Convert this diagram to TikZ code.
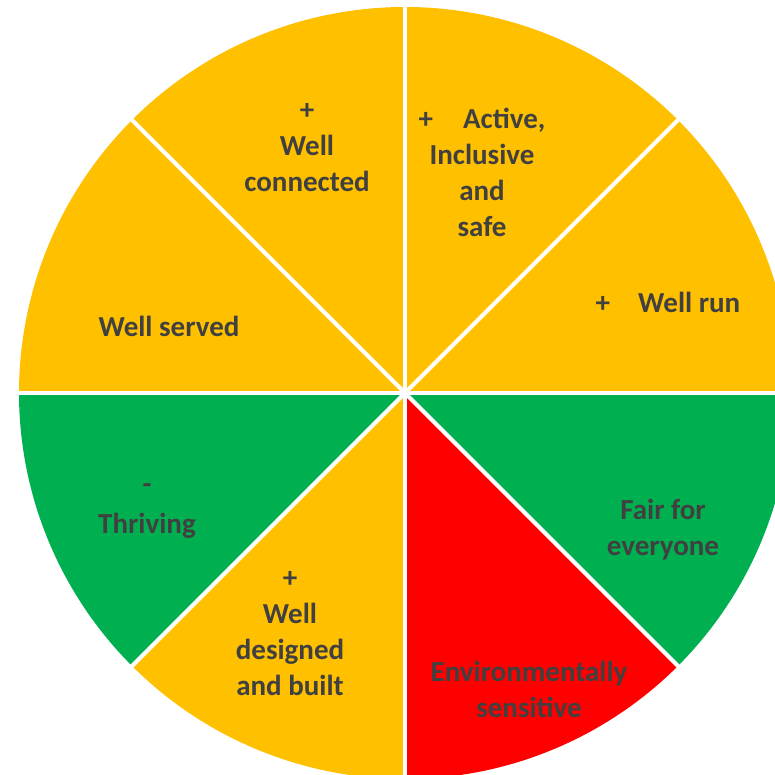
\documentclass[tikz,border=0pt]{standalone}
\usepackage{fontspec}
\setmainfont{Carlito}
\definecolor{amber}{HTML}{FFC000}
\definecolor{leaf}{HTML}{00B050}
\definecolor{alarm}{HTML}{FF0000}
\definecolor{ink}{HTML}{404040}
\begin{document}
\begin{tikzpicture}[x=1pt,y=1pt,
  lbl/.style={text=ink,font=\bfseries\fontsize{29}{36}\selectfont,align=center,inner sep=0pt},
  sep/.style={draw=white,line width=4pt}]
\useasboundingbox (0,0) rectangle (775,775);
\clip (0,0) rectangle (775,775);
\coordinate (c) at (405,382);
\def\R{386}
\fill[amber] (c) -- ++(90:\R) arc[start angle=90,end angle=45,radius=\R] -- cycle;
\fill[amber] (c) -- ++(45:\R) arc[start angle=45,end angle=0,radius=\R] -- cycle;
\fill[leaf] (c) -- ++(0:\R) arc[start angle=0,end angle=-45,radius=\R] -- cycle;
\fill[alarm] (c) -- ++(-45:\R) arc[start angle=-45,end angle=-90,radius=\R] -- cycle;
\fill[amber] (c) -- ++(-90:\R) arc[start angle=-90,end angle=-135,radius=\R] -- cycle;
\fill[leaf] (c) -- ++(-135:\R) arc[start angle=-135,end angle=-180,radius=\R] -- cycle;
\fill[amber] (c) -- ++(180:\R) arc[start angle=180,end angle=135,radius=\R] -- cycle;
\fill[amber] (c) -- ++(135:\R) arc[start angle=135,end angle=90,radius=\R] -- cycle;
\foreach \a in {0,45,...,315} \draw[sep] (c) -- ++(\a:400);
\node[lbl] (active) at (482,603) {+\hspace{30pt}Active,\\Inclusive\\and\\safe};
\node[lbl] (run) at (668,473) {+\hspace{28pt}Well run};
\node[lbl] (fair) at (663,245.5) {Fair for\\everyone};
\node[lbl] (env) at (529,86) {Environmentally\\sensitive};
\node[lbl] (built) at (290,141) {+\\Well\\designed\\and built};
\node[lbl] (thrive) at (147,264) {-\\[4pt]Thriving};
\node[lbl] (served) at (169,449) {Well served};
\node[lbl] (conn) at (307,627) {+\\Well\\connected};
\end{tikzpicture}
\end{document}
